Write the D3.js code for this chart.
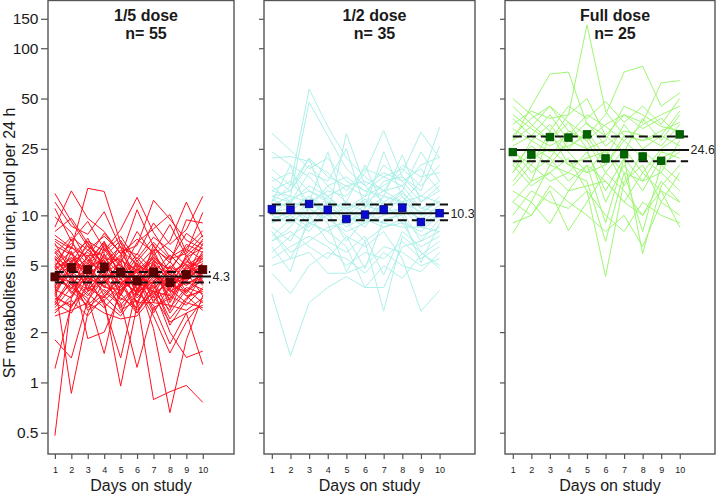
<!DOCTYPE html>
<html><head><meta charset="utf-8">
<script src="https://cdn.jsdelivr.net/npm/d3@7"></script>
<style>
html,body{margin:0;padding:0;background:#fff;}
svg{display:block;font-family:"Liberation Sans",Arial,sans-serif;}
</style></head>
<body><svg id="c" width="716" height="495"></svg>
<script>
// ---------------- data ----------------
const days = [1,2,3,4,5,6,7,8,9,10];
const yTicks = [0.5,1,2,5,10,25,50,100,150];
const panelTitles = ["1/5 dose","1/2 dose","Full dose"];
const panelN = [55,35,25];
const xTitle = "Days on study";
const yTitle = "SF metabolites in urine, µmol per 24 h";

const subjectsFifth = [
 [0.48,3.2,4.5,5.1,3.8,4.6,5.5,3.9,4.2,5.0],
 [1.21,2.9,3.5,4.8,6.2,5.1,4.4,3.6,4.9,5.5],
 [1.8,1.4,3.1,4.2,2.8,3.5,5.9,4.1,3.3,2.7],
 [3.9,0.86,2.6,4.1,3.3,5.2,3.0,4.6,5.1,3.8],
 [5.2,4.8,1.83,2.0,3.4,2.6,4.0,2.2,3.1,4.4],
 [4.1,3.7,3.2,1.49,3.9,4.7,3.3,5.0,4.2,6.1],
 [6.0,4.4,3.8,3.1,0.95,2.9,4.9,3.5,4.0,3.6],
 [3.3,2.8,4.3,2.9,1.4,3.7,2.5,1.5,2.3,3.1],
 [4.6,3.5,2.9,3.6,3.0,1.23,2.8,3.2,4.1,4.9],
 [3.0,2.6,3.9,4.4,2.7,3.1,0.79,0.88,0.96,0.76],
 [5.5,4.2,3.4,2.8,3.6,4.1,2.1,0.66,1.8,3.3],
 [2.7,3.1,2.5,3.3,4.0,2.6,3.6,2.0,1.41,1.54],
 [3.6,4.9,4.1,3.0,2.5,3.4,2.9,1.7,2.6,1.28],
 [13.5,9.2,6.5,5.6,7.1,4.9,6.3,5.4,7.8,6.6],
 [8.5,14.0,9.6,8.0,5.9,7.2,6.0,8.8,5.7,7.0],
 [7.2,6.3,14.5,13.9,6.8,5.5,7.4,6.2,5.0,5.8],
 [6.6,5.8,7.0,6.1,8.2,12.8,7.9,5.6,6.4,8.1],
 [5.9,7.4,6.2,7.5,6.0,6.6,12.3,9.5,7.1,6.3],
 [9.8,7.9,5.3,6.9,5.2,8.0,5.8,7.0,12.0,7.4],
 [12.0,8.6,7.7,10.5,6.4,5.8,9.0,6.7,8.2,13.0],
 [11.0,7.0,9.2,6.3,4.5,6.9,8.3,10.1,6.0,10.4],
 [8.0,9.6,6.8,4.9,5.6,10.8,6.5,5.2,9.4,9.0],
 [4.3,5.0,4.7,5.6,4.4,3.9,4.6,3.8,4.5,4.9],
 [3.8,4.4,5.3,4.6,5.1,3.4,4.2,3.5,4.0,5.2],
 [5.0,6.1,4.0,5.8,4.7,4.3,5.6,4.4,5.3,4.8],
 [4.5,3.6,5.8,4.1,3.7,4.8,3.6,4.7,3.9,4.2],
 [3.4,5.4,3.6,6.4,4.9,3.0,4.8,3.1,4.7,5.7],
 [4.8,5.6,4.6,3.7,5.5,4.2,3.9,4.9,3.5,4.1],
 [2.9,4.1,3.3,4.5,3.1,3.8,5.2,2.8,3.7,3.4],
 [5.7,4.7,6.2,5.2,6.5,3.6,5.0,4.1,5.6,6.4],
 [3.1,3.9,2.8,3.4,4.2,2.7,3.5,3.3,2.9,3.7],
 [4.0,6.5,5.1,7.0,4.1,5.6,4.3,3.7,4.8,5.3],
 [6.3,5.2,7.3,4.7,5.8,3.3,6.7,4.5,3.4,4.6],
 [3.5,4.6,3.9,5.9,3.5,4.4,3.2,4.2,5.5,3.9],
 [4.9,3.4,4.8,3.9,5.3,2.9,5.4,3.0,4.4,5.9],
 [2.6,3.3,4.4,3.5,2.9,3.9,3.1,3.6,3.0,2.8],
 [5.3,6.8,5.5,4.3,4.6,5.0,4.5,5.8,4.6,5.1],
 [4.2,4.0,3.0,5.3,3.9,4.6,2.7,3.4,5.0,4.3],
 [7.0,5.9,4.9,6.6,5.0,4.0,6.2,3.9,5.2,7.2],
 [3.2,2.9,3.7,3.2,4.5,3.2,4.1,2.6,3.6,3.0],
 [4.4,5.3,6.0,4.9,3.4,5.4,3.7,4.3,3.8,4.5],
 [2.8,3.7,4.2,3.8,3.2,2.8,3.8,2.4,3.2,3.6],
 [6.8,4.5,5.6,7.8,5.9,4.5,5.3,4.8,6.3,5.4],
 [3.7,6.0,3.5,4.0,4.8,3.6,4.4,3.3,4.3,6.8],
 [5.1,3.8,5.0,5.4,3.3,4.9,3.4,4.0,3.3,3.5],
 [3.0,4.3,2.7,3.1,3.8,3.0,3.0,2.9,2.7,3.2],
 [4.7,5.5,4.4,6.8,4.3,5.9,4.7,3.6,5.8,4.0],
 [6.1,4.9,6.6,4.2,6.9,3.8,5.1,4.4,4.1,5.6],
 [3.6,3.2,5.2,3.7,3.6,4.2,2.6,3.8,3.5,4.7],
 [2.5,2.7,3.0,2.6,2.4,2.5,3.3,2.3,2.6,2.9],
 [4.9,7.2,4.3,5.5,5.4,4.7,5.7,4.6,6.7,6.0],
 [5.6,4.1,3.6,4.5,4.0,3.5,4.0,5.3,3.9,4.4],
 [3.3,5.1,4.9,3.3,2.6,4.0,3.5,2.7,4.6,3.3],
 [7.6,6.4,5.7,6.0,7.5,5.3,6.9,5.5,5.9,7.6],
 [4.1,4.6,6.9,5.0,4.2,3.4,4.3,4.1,4.4,5.0]
];
const subjectsHalf = [
 [31,24.5,19,22,16,14,17,19,15,20],
 [12,15,57,34,22,17,14,12,13,16],
 [14,13,47.6,30,19,15,18,16,12,14],
 [3.4,1.44,3.0,3.7,4.3,3.7,5.0,4.2,5.8,7.0],
 [9,11,13,10,30.8,15,12,14,10,11],
 [11,9.5,12,14,13,18,32.2,17,13,12],
 [16,18,14,12,11,13,15,18,31.4,22],
 [13,12,11,15,17,14,13,12,16,33.7],
 [22,22.5,21,18,14,19,17,15,20,22.3],
 [6,7.5,9,8,6.5,3.7,3.7,6.5,7.0,8],
 [8,6,7,8.5,9,7,2.67,7.5,6,5],
 [7,8,6.5,5.5,7.5,6.5,8,5.5,2.67,3.56],
 [4.5,3.4,5,6,5.5,4.5,6,5,4.6,6],
 [10,9,11,9.5,8,9,10,11,8.5,10],
 [12,20,10,12,9,11,24,13,9,11],
 [9.5,10.5,13,11,8.5,10,11.5,12,9,10],
 [11,12,15,13,10,12,10,13,10,13],
 [8,5.5,9,10,7.5,4.8,9.5,10,5.2,9],
 [14,16,12,24,11,12,14,15,11,12],
 [10.5,11,9,8,9.5,9.5,8.5,9.5,7.5,8.5],
 [7.5,9.5,8,11,10,8.5,12,9,8,10],
 [13,14,22,11,12,10.5,13,23,12,15],
 [6.5,4.6,10,7,6,7.5,4.4,8,6.5,7.5],
 [15,12,18,16,25,11,16,17,14,26],
 [9,10,8.5,12,9,10.5,9,10.5,7,9.5],
 [17,14,20,15,12,20,11,14,24,16],
 [5.5,6.5,7.5,6.5,5,6,5.5,7,5.5,6.5],
 [11.5,13,12,10,11,9,13,12,10.5,12],
 [8.5,7,11,9,4.6,7,8.5,9,6,4.8],
 [19,15,22,17,15,16,14,20,17,18],
 [10,12.5,14,12.5,9.5,11.5,10.5,11,9.5,11.5],
 [12.5,11,9.5,13,10.5,12.5,11,13.5,11,10.5],
 [7,8.5,12,10.5,7,9.5,9,8.5,8.5,8],
 [24,20,17,13,15,13,20,16,19,14],
 [5,5.5,6,4.5,4.5,5,6.5,6,5,5.5]
];
const subjectsFull = [
 [35,42,38,40,138,42,30,28,32,36],
 [28,45,70,72,35,30,40,33,38,30],
 [40,33,28,36,30,40,72,78,45,54],
 [30,38,45,32,28,35,40,36,62,64],
 [7.8,12,8.9,14,20,16,12,18,14,8.5],
 [12,10,14,8.1,12,18,14,10,16,12],
 [20,15,18,22,14,4.3,16,20,12,18],
 [25,18,22,16,20,9,22,5.9,15,20],
 [15,20,16,18,16,7,18,8,20,16],
 [18,24,20,28,25,12,20,14,22,25],
 [22,16,30,24,18,20,28,22,18,28],
 [45,35,28,40,50,30,24,38,28,40],
 [10,14,12,11,14,10,8,12,10,9],
 [33,28,35,25,32,22,35,25,30,42],
 [16,22,25,20,22,24,18,16,24,22],
 [26,30,40,28,36,26,32,30,26,35],
 [12,16,18,14,15,16,12,10,14,12],
 [50,40,32,45,38,48,36,45,35,50],
 [20,26,22,32,28,18,25,18,25,30],
 [14,12,20,18,24,14,22,16,18,14],
 [38,30,26,30,40,34,28,35,40,45],
 [24,20,32,20,18,25,15,24,20,24],
 [18,28,24,26,30,20,30,28,30,26],
 [9,10,15,12,10,8,10,6.5,12,10],
 [28,34,45,36,25,28,45,40,34,32]
];
const dailyMeanFifth = [4.28,4.87,4.73,4.91,4.58,4.05,4.58,3.96,4.42,4.73];
const dailyMeanHalf  = [10.9,10.8,11.7,10.8,9.5,10.1,10.85,11.1,9.12,10.3];
const dailyMeanFull  = [23.9,23.1,29.4,29.2,30.5,21.9,23.2,22.5,21.2,30.5];
const overallMean = [4.3,10.3,24.6];
const ciLower = [3.96,9.33,21.1];
const ciUpper = [4.58,11.6,29.6];

// ---------------- drawing ----------------
const svg = d3.select("#c");
const subjects = [subjectsFifth, subjectsHalf, subjectsFull];
const dailyMeans = [dailyMeanFifth, dailyMeanHalf, dailyMeanFull];
const lineColors = ["#ff1020","#aef0ea","#9ef772"];
const pointColors = ["#5c0000","#0a0ad0","#006400"];
const pointStroke = ["#4a0000","#000080","#004d00"];
const panels = [{x0:48,x1:234,tick:7,ps:8},{x0:264,x1:475,tick:5,ps:7.5},{x0:505,x1:715,tick:5,ps:7.5}];
const yTop = 0.5, yBot = 454;
const y = d3.scaleLog().domain([0.373,193]).range([yBot,yTop]);
const frameCol = "#555";

panels.forEach((p,i)=>{
  const x = d3.scaleLinear().domain([0.58,11.9]).range([p.x0,p.x1]);
  const g = svg.append("g");
  const line = d3.line().x((d,j)=>x(days[j])).y(d=>y(d));
  g.append("g").selectAll("path").data(subjects[i]).join("path")
    .attr("d", line).attr("fill","none").attr("stroke",lineColors[i]).attr("stroke-width",1);

  // mean & CI lines
  g.append("line").attr("x1",x(0.88)).attr("x2",x(10.5))
    .attr("y1",y(overallMean[i])).attr("y2",y(overallMean[i]))
    .attr("stroke","#111").attr("stroke-width",2);
  [ciLower[i],ciUpper[i]].forEach(v=>{
    g.append("line").attr("x1",x(1)).attr("x2",x(10.45))
      .attr("y1",y(v)).attr("y2",y(v))
      .attr("stroke","#111").attr("stroke-width",2).attr("stroke-dasharray","9,5");
  });
  g.append("text").attr("x",x(10.5)+1.5).attr("y",y(overallMean[i]))
    .attr("dy","0.36em").attr("font-size","12.5px").attr("fill","#222")
    .text(overallMean[i].toFixed(1));

  // daily mean squares
  g.append("g").selectAll("rect").data(dailyMeans[i]).join("rect")
    .attr("x",(d,j)=>x(days[j])-p.ps/2).attr("y",d=>y(d)-p.ps/2)
    .attr("width",p.ps).attr("height",p.ps)
    .attr("fill",pointColors[i]).attr("stroke",pointStroke[i]).attr("stroke-width",0.8);

  // frame
  g.append("rect").attr("x",p.x0).attr("y",yTop).attr("width",p.x1-p.x0).attr("height",yBot-yTop)
    .attr("fill","none").attr("stroke",frameCol).attr("stroke-width",1.4);

  // y axis
  const ya = g.append("g").attr("transform",`translate(${p.x0},0)`)
    .call(d3.axisLeft(y).tickValues(yTicks).tickSize(p.tick).tickPadding(2.5)
      .tickFormat(i===0 ? d3.format("") : ()=>""));
  ya.select(".domain").remove();
  ya.selectAll("line").attr("stroke",frameCol).attr("stroke-width",1.2);
  ya.selectAll("text").attr("font-size","15.5px").attr("fill","#1a1a1a")
    .attr("font-family","Liberation Sans, Arial, sans-serif");

  // x axis
  const xa = g.append("g").attr("transform",`translate(0,${yBot})`)
    .call(d3.axisBottom(x).tickValues(days).tickSize(5).tickPadding(7.5).tickFormat(d3.format("d")));
  xa.select(".domain").remove();
  xa.selectAll("line").attr("stroke",frameCol).attr("stroke-width",1.2);
  xa.selectAll("text").attr("font-size","9px").attr("fill","#1a1a1a")
    .attr("font-family","Liberation Sans, Arial, sans-serif");

  const cx = (p.x0+p.x1)/2;
  g.append("text").attr("x",cx).attr("y",491).attr("text-anchor","middle")
    .attr("font-size","16px").attr("fill","#1a1a1a").text(xTitle);
  g.append("text").attr("x",cx+5).attr("y",20.5).attr("text-anchor","middle")
    .attr("font-size","16px").attr("font-weight","bold").attr("fill","#1a1a1a").text(panelTitles[i]);
  g.append("text").attr("x",cx+5).attr("y",39.3).attr("text-anchor","middle")
    .attr("font-size","16px").attr("font-weight","bold").attr("fill","#1a1a1a").text("n= "+panelN[i]);
});

svg.append("text").attr("transform","translate(15,243) rotate(-90)")
  .attr("text-anchor","middle").attr("font-size","16px").attr("fill","#1a1a1a").text(yTitle);
</script>
</body></html>
